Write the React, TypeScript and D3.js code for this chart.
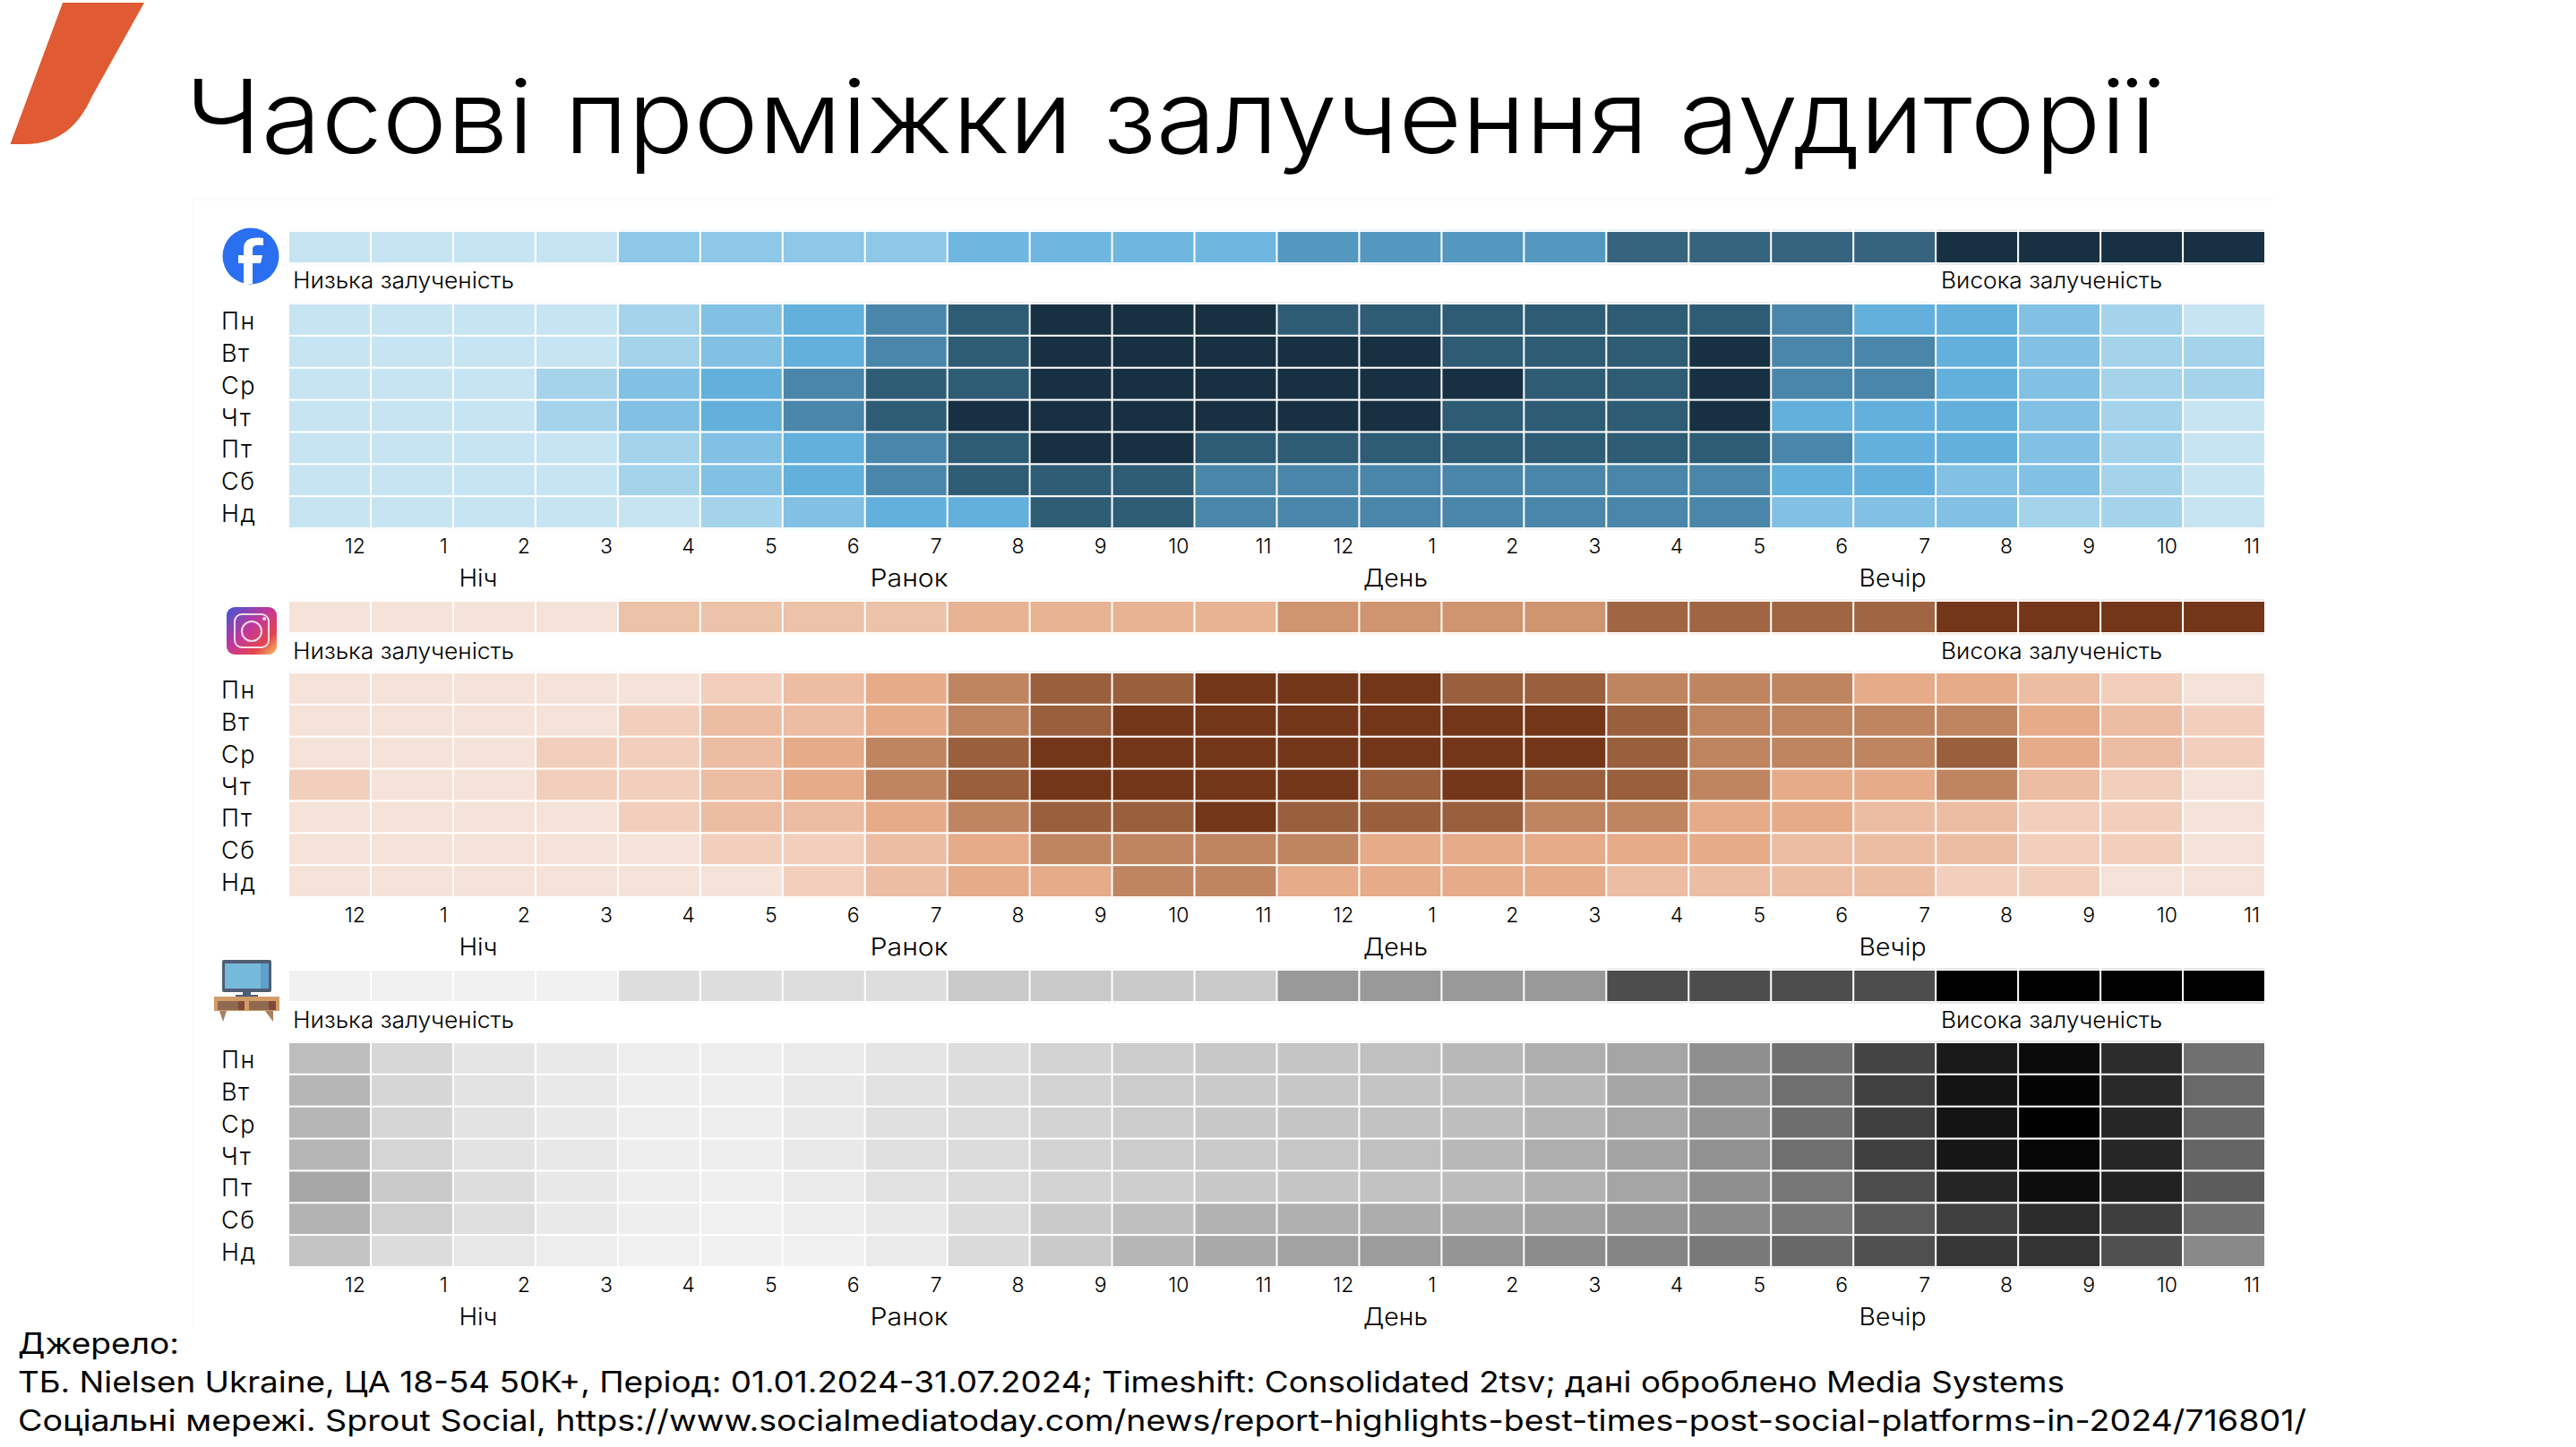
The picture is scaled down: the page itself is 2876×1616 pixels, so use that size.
import React from "react";
import * as d3 from "d3";

const days = ["Пн", "Вт", "Ср", "Чт", "Пт", "Сб", "Нд"];
const hours = ["12","1","2","3","4","5","6","7","8","9","10","11","12","1","2","3","4","5","6","7","8","9","10","11"];
const dayParts = ["Ніч", "Ранок", "День", "Вечір"];
const title = "Часові проміжки залучення аудиторії";
const lowLabel = "Низька залученість";
const highLabel = "Висока залученість";
const sources = [
  "Джерело:",
  "ТБ. Nielsen Ukraine, ЦА 18-54 50К+, Період: 01.01.2024-31.07.2024; Timeshift: Consolidated 2tsv; дані оброблено Media Systems",
  "Соціальні мережі. Sprout Social, https://www.socialmediatoday.com/news/report-highlights-best-times-post-social-platforms-in-2024/716801/",
];

// engagement legend: six groups of four hours
const legendLevels = [0,0,0,0,1,1,1,1,2,2,2,2,3,3,3,3,4,4,4,4,5,5,5,5];

const fbLegendColors = ["#C7E4F3","#8DC8E8","#6FB7E0","#5498BF","#36647F","#173142"];
const fbColors = ["#C7E4F3","#A4D3EB","#82C0E4","#62B0DB","#4A86A9","#2F5C75","#173142"];
const fbLevels = [
  [0,0,0,0,1,2,3,4,5,6,6,6,5,5,5,5,5,5,4,3,3,2,1,0],
  [0,0,0,0,1,2,3,4,5,6,6,6,6,6,5,5,5,6,4,4,3,2,1,1],
  [0,0,0,1,2,3,4,5,5,6,6,6,6,6,6,5,5,6,4,4,3,2,1,1],
  [0,0,0,1,2,3,4,5,6,6,6,6,6,6,5,5,5,6,3,3,3,2,1,0],
  [0,0,0,0,1,2,3,4,5,6,6,5,5,5,5,5,5,5,4,3,3,2,1,0],
  [0,0,0,0,1,2,3,4,5,5,5,4,4,4,4,4,4,4,3,3,2,2,1,0],
  [0,0,0,0,0,1,2,3,3,5,5,4,4,4,4,4,4,4,2,2,2,1,1,0],
];

const igLegendColors = ["#F5E2D8","#ECC2A9","#E8B393","#CF9570","#A06643","#743618"];
const igColors = ["#F5E2D8","#F2CFBC","#ECBCA3","#E6AB89","#BF8561","#9A5F3C","#743618"];
const igLevels = [
  [0,0,0,0,0,1,2,3,4,5,5,6,6,6,5,5,4,4,4,3,3,2,1,0],
  [0,0,0,0,1,2,2,3,4,5,6,6,6,6,6,6,5,4,4,4,4,3,2,1],
  [0,0,0,1,1,2,3,4,5,6,6,6,6,6,6,6,5,4,4,4,5,3,2,1],
  [1,0,0,1,1,2,3,4,5,6,6,6,6,5,6,5,5,4,3,3,4,2,1,0],
  [0,0,0,0,1,2,2,3,4,5,5,6,5,5,5,4,4,3,3,2,2,1,1,0],
  [0,0,0,0,0,1,1,2,3,4,4,4,4,3,3,3,3,3,2,2,2,1,1,0],
  [0,0,0,0,0,0,1,2,3,3,4,4,3,3,3,3,2,2,2,2,1,1,0,0],
];

const tvLegendGreys = [0xf1,0xdd,0xc9,0x99,0x4d,0x00];
const tvGreys = [
  [0xbd,0xd7,0xe5,0xe9,0xee,0xee,0xea,0xe4,0xdd,0xd2,0xcc,0xc8,0xc5,0xc0,0xb8,0xae,0xa5,0x8f,0x70,0x44,0x1a,0x0b,0x2c,0x70],
  [0xb6,0xd6,0xe3,0xe9,0xee,0xee,0xe9,0xe1,0xdc,0xd2,0xcc,0xca,0xc7,0xc4,0xbf,0xb8,0xa6,0x92,0x6f,0x41,0x14,0x04,0x29,0x69],
  [0xb6,0xd6,0xe3,0xe9,0xee,0xee,0xe9,0xe0,0xdc,0xd2,0xcc,0xc8,0xc5,0xc2,0xbe,0xb5,0xa8,0x95,0x6e,0x3f,0x14,0x01,0x26,0x68],
  [0xb6,0xd5,0xe3,0xe8,0xee,0xee,0xe9,0xe0,0xdc,0xd2,0xcc,0xc9,0xc6,0xc0,0xb8,0xae,0xa4,0x92,0x6f,0x3f,0x16,0x06,0x26,0x65],
  [0xa7,0xca,0xdd,0xe8,0xee,0xef,0xea,0xe1,0xdc,0xd3,0xce,0xc8,0xc5,0xc2,0xbc,0xb2,0xa5,0x8f,0x77,0x4d,0x25,0x0d,0x22,0x5c],
  [0xb3,0xcf,0xde,0xe9,0xee,0xf0,0xed,0xe9,0xdc,0xca,0xbf,0xb2,0xb0,0xad,0xa9,0xa2,0x97,0x8b,0x79,0x5a,0x40,0x2c,0x3e,0x70],
  [0xc4,0xdc,0xe7,0xed,0xf0,0xf1,0xf0,0xea,0xda,0xca,0xb6,0xa9,0xa2,0x9c,0x95,0x8c,0x84,0x79,0x68,0x50,0x37,0x33,0x50,0x89],
];

const FONT = "Inter, 'Noto Sans', sans-serif";
const grey = (g: number) => `rgb(${g},${g},${g})`;

const x = d3.scaleBand<number>().domain(d3.range(24)).range([323, 2528]).paddingInner(0.022);
const partX = [534, 1015, 1558, 2113];
const partW = [43, 87, 72, 75];

type PanelProps = {
  legendTop: number;
  rowsTop: number;
  labelY: number;
  legendColor: (i: number) => string;
  cellColor: (r: number, c: number) => string;
  rows: number[][];
};

function Panel({ legendTop, rowsTop, labelY, legendColor, cellColor, rows }: PanelProps) {
  const y = d3.scaleBand<number>().domain(d3.range(7)).range([rowsTop, rowsTop + 249]).paddingInner(0.058);
  const w = x.bandwidth();
  const bottom = rowsTop + 249;
  return (
    <g fontFamily={FONT} fill="#000" fontWeight={300}>
      {legendLevels.map((l, c) => (
        <g key={c}>
          <rect x={x(c)} y={legendTop - 3} width={w} height={2} fill={legendColor(l)} opacity={0.1} />
          <rect x={x(c)} y={legendTop + 35} width={w} height={2} fill={legendColor(l)} opacity={0.1} />
          <rect x={x(c)} y={legendTop} width={w} height={34} fill={legendColor(l)} />
        </g>
      ))}
      <text x={327} y={labelY} fontSize={25} textLength={247} lengthAdjust="spacingAndGlyphs">{lowLabel}</text>
      <text x={2167} y={labelY} fontSize={25} textLength={247} lengthAdjust="spacingAndGlyphs">{highLabel}</text>
      {rows.map((row, r) => (
        <g key={r}>
          <text x={247} y={y(r)! + y.bandwidth() / 2 + 11} fontSize={27} letterSpacing={1.5}>{days[r]}</text>
          {row.map((_, c) => (
            <rect key={c} x={x(c)} y={y(r)} width={w} height={y.bandwidth()} fill={cellColor(r, c)} />
          ))}
        </g>
      ))}
      {hours.map((_, c) => (
        <g key={c}>
          <rect x={x(c)} y={rowsTop - 3} width={w} height={2} fill={cellColor(0, c)} opacity={0.1} />
          <rect x={x(c)} y={bottom + 1} width={w} height={2} fill={cellColor(6, c)} opacity={0.1} />
        </g>
      ))}
      {hours.map((h, c) => (
        <text key={c} x={x(c)! + w - 5} y={bottom + 29} fontSize={23} textAnchor="end">{h}</text>
      ))}
      {dayParts.map((p, i) => (
        <text key={p} x={partX[i] - partW[i] / 2} y={bottom + 66} fontSize={27} textLength={partW[i]} lengthAdjust="spacingAndGlyphs">{p}</text>
      ))}
    </g>
  );
}

function Logo() {
  return (
    <path
      d="M70,3 L161,3 L102,109 C88,140 66,161 28,161 L11.5,161 Z"
      fill="#E05A33"
    />
  );
}

function FacebookIcon() {
  return (
    <g>
      <circle cx={280} cy={286} r={31.5} fill="#2A6FF0" />
      <path
        d="M272,317 L272,294 L266,294 L266,285 L272,285 L272,278 C272,268 279,264 294,266 L294,274 C285,273 282,274 282,279 L282,285 L293,285 L291,294 L282,294 L282,317 Z"
        fill="#fff"
      />
    </g>
  );
}

function InstagramIcon() {
  return (
    <g>
      <defs>
        <linearGradient id="ig" x1="0" y1="0" x2="1" y2="1">
          <stop offset="0" stopColor="#3F56D8" />
          <stop offset="0.45" stopColor="#C2379A" />
          <stop offset="0.75" stopColor="#E4444F" />
          <stop offset="1" stopColor="#F7C35F" />
        </linearGradient>
      </defs>
      <rect x={253} y={678} width={56} height={53} rx={9} fill="url(#ig)" />
      <rect x={262} y={686} width={38} height={37} rx={8} fill="none" stroke="#F5DDE6" strokeWidth={2} />
      <circle cx={281} cy={705} r={11} fill="none" stroke="#F5DDE6" strokeWidth={2} />
      <circle cx={295} cy={691} r={2} fill="#F5DDE6" />
    </g>
  );
}

function TvIcon() {
  return (
    <g>
      <rect x={248} y={1072} width={55} height={36} rx={2} fill="#4F5E74" />
      <rect x={251} y={1076} width={49} height={28} fill="#76BADB" />
      <rect x={291} y={1076} width={9} height={28} fill="#5FA1CB" />
      <rect x={271} y={1108} width={9} height={6} fill="#4F5E74" />
      <rect x={263} y={1111} width={25} height={3} fill="#4F5E74" />
      <rect x={239} y={1113} width={73} height={16} fill="#D29C68" />
      <rect x={243} y={1118} width={30} height={10} fill="#8F6A50" />
      <rect x={278} y={1118} width={30} height={10} fill="#8F6A50" />
      <rect x={266} y={1118} width={7} height={10} fill="#84493A" />
      <rect x={300} y={1118} width={8} height={10} fill="#84493A" />
      <path d="M245,1129 L253,1129 L249,1141 Z M296,1129 L305,1129 L305,1141 Z" fill="#A9805F" />
    </g>
  );
}

export default function App() {
  const fbL = (i: number) => fbLegendColors[i];
  const igL = (i: number) => igLegendColors[i];
  const tvL = (i: number) => grey(tvLegendGreys[i]);
  return (
    <svg
      width={2876}
      height={1616}
      viewBox="0 0 2876 1616"
      style={{ position: "absolute", left: 0, top: 0, background: "#fff" }}
    >
      <path d="M215,1483 L215,223 L2540,223" fill="none" stroke="#FBFBFB" strokeWidth={2} />
      <Logo />
      <text x={207} y={171} fontFamily={FONT} fontWeight={300} fontSize={114} textLength={2200} lengthAdjust="spacingAndGlyphs" fill="#000">
        {title}
      </text>
      <FacebookIcon />
      <InstagramIcon />
      <TvIcon />
      <Panel legendTop={259} rowsTop={340} labelY={322} legendColor={fbL} cellColor={(r, c) => fbColors[fbLevels[r][c]]} rows={fbLevels} />
      <Panel legendTop={672} rowsTop={752} labelY={736} legendColor={igL} cellColor={(r, c) => igColors[igLevels[r][c]]} rows={igLevels} />
      <Panel legendTop={1084} rowsTop={1165} labelY={1148} legendColor={tvL} cellColor={(r, c) => grey(tvGreys[r][c])} rows={tvGreys} />
      <g fontFamily={FONT} fontSize={33} fontWeight={400} fill="#000">
        <text x={20} y={1512} textLength={180} lengthAdjust="spacingAndGlyphs">{sources[0]}</text>
        <text x={20} y={1555} textLength={2285} lengthAdjust="spacingAndGlyphs">{sources[1]}</text>
        <text x={20} y={1598} textLength={2555} lengthAdjust="spacingAndGlyphs">{sources[2]}</text>
      </g>
    </svg>
  );
}
